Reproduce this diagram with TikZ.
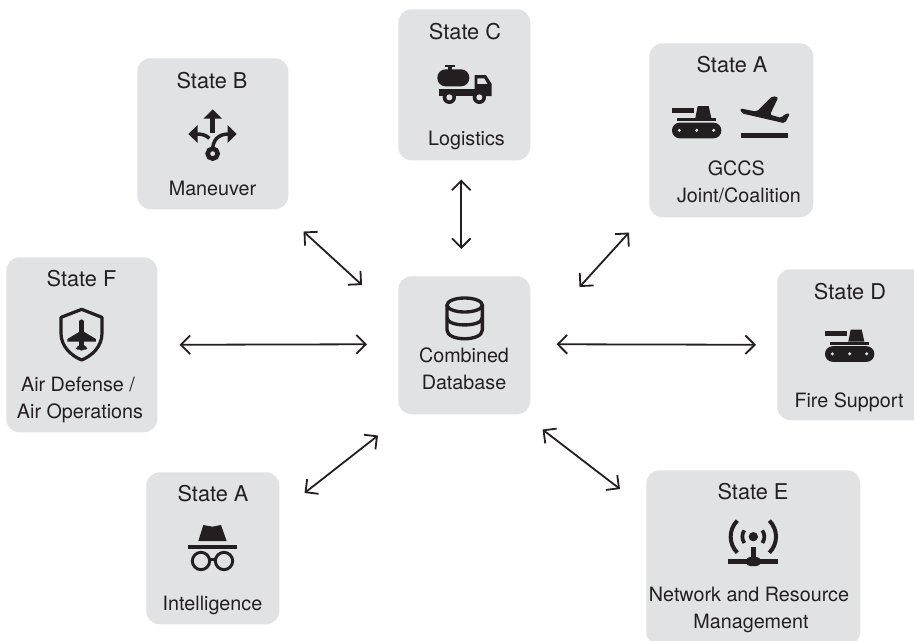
\documentclass[tikz,border=0pt]{standalone}
\usepackage{fontspec}
\setmainfont{TeX Gyre Heros}
\usetikzlibrary{arrows.meta,calc}
\definecolor{boxgray}{HTML}{E1E2E4}
\definecolor{ink}{HTML}{231F20}
\tikzset{
  x=0.75pt,y=-0.75pt,
  statebox/.style={fill=boxgray,rounded corners=10pt,inner sep=0pt,anchor=north west},
  statetitle/.style={font=\fontsize{16.3}{19}\selectfont,text=ink,anchor=base,inner sep=0pt},
  label/.style={font=\fontsize{14.8}{16.5}\selectfont,text=ink,anchor=base,inner sep=0pt,align=center},
  link/.style={ink,line width=1.35pt,{Straight Barb[length=7pt,width=14pt,line width=1.35pt]}-{Straight Barb[length=7pt,width=14pt,line width=1.35pt]}},
  iconline/.style={draw=ink,line width=2.2pt},
  tankicon/.pic={
    \begin{scope}[scale=1/3]
      \fill[ink] (0,5) rectangle (67,20);
      \fill[ink] (15,36) rectangle (133,45);
      \fill[ink] (77,0) -- (110,0) -- (118,36) -- (70,36) -- cycle;
      \fill[ink,rounded corners=5.8pt] (0,50) rectangle (148,97);
      \fill[boxgray] (22,73) circle (5) (74,73) circle (5) (125,73) circle (5);
    \end{scope}
  }
}
\begin{document}
\begin{tikzpicture}
\clip (0,0) rectangle (914,640);
\fill[white] (0,0) rectangle (914,640);

% boxes
\node[statebox,minimum width=113.25pt,minimum height=113.25pt] (nB) at (137,58) {};
\node[statebox,minimum width=99pt,minimum height=113.25pt] (nC) at (398,9) {};
\node[statebox,minimum width=123pt,minimum height=130.5pt] (nA) at (649,43) {};
\node[statebox,minimum width=113.25pt,minimum height=131.25pt] (nF) at (6,257) {};
\node[statebox,minimum width=99pt,minimum height=103.5pt] (db) at (398,276) {};
\node[statebox,minimum width=120pt,minimum height=113.25pt] (nD) at (777,269) {};
\node[statebox,minimum width=99.75pt,minimum height=114pt] (nG) at (146,472) {};
\node[statebox,minimum width=160.5pt,minimum height=131.25pt] (nE) at (646,470) {};

% texts
\node[statetitle] (tB) at (212,88) {State B};
\node[label] (lB) at (212.5,195) {Maneuver};
\node[statetitle] (tC) at (465,39) {State C};
\node[label] (lC) at (466.5,145) {Logistics};
\node[statetitle] (tA) at (732,72.5) {State A};
\node[label] (lA) at (739,202) {GCCS\kern4pt\\[3.5pt]Joint/Coalition};
\node[statetitle] (tF) at (81.5,286.5) {State F};
\node[label] (lF) at (80,418) {Air Defense /\kern3pt\\[3.5pt]Air Operations};
\node[statetitle] (tD) at (850,299) {State D};
\node[label] (lD) at (849,407) {Fire Support};
\node[statetitle] (tG) at (213,501.5) {State A};
\node[label] (lG) at (212.5,610) {Intelligence};
\node[statetitle] (tE) at (753,499) {State E};
\node[label] (lE) at (751,628) {Network and Resource\kern3pt\\[3.5pt]Management};
\node[label] (ldb) at (464,389) {Combined\\[3.5pt]Database};

% connectors
\draw[link] ($(nB.south east)+(15,22)$) -- ($(db.north west)+(-36,9)$);
\draw[link] ($(nC.south)+(-3,19)$) -- ($(db.north)+(-3,-27)$);
\draw[link] ($(nA.south west)+(-20,15)$) -- ($(db.north east)+(49,11)$);
\draw[link] ($(db.east)+(26,-1)$) -- ($(nD.west)+(-21,0)$);
\draw[link] ($(db.south east)+(12,15)$) -- ($(nE.north west)+(-26,19)$);
\draw[link] ($(nG.north east)+(25,21)$) -- ($(db.south west)+(-20,21)$);
\draw[link] ($(nF.east)+(22,0)$) -- ($(db.west)+(-31,-1)$);

% tanks
\pic at (672,106) {tankicon};
\pic at (825,329.5) {tankicon};

% plane and bar (State A)
\begin{scope}[shift={(735,90)},scale=1/3]
  \fill[ink] (18,129) rectangle (160,144);
  \fill[ink,rounded corners=1.5pt] (15,55) -- (65,65) -- (112,18) -- (130,22) -- (105,74) -- (140,84) -- (148,72) -- (165,70) -- (150,100) -- (20,70) -- cycle;
\end{scope}

% truck
\begin{scope}[shift={(400,10)},scale=1/3]
  \fill[ink,rounded corners=6.2pt] (112,178) rectangle (208,229);
  \fill[ink] (135,164) rectangle (165,171);
  \fill[ink] (145,168) rectangle (155,182);
  \fill[ink] (118,237) rectangle (225,258);
  \fill[ink,even odd rule] (224,195) -- (258,195) -- (275,222) -- (275,258) -- (224,258) -- cycle (232,205) -- (253,205) -- (263,222) -- (232,222) -- cycle;
  \fill[ink] (148,262) circle (20) (238,262) circle (20);
  \fill[boxgray] (148,262) circle (9) (238,262) circle (9);
\end{scope}

% maneuver
\begin{scope}[shift={(130,55)},scale=1/3]
  \fill[ink] (248,163) -- (276,191) -- (220,191) -- cycle;
  \fill[ink] (241,188) rectangle (255,235);
  \fill[ink] (175,237) -- (203,210) -- (203,264) -- cycle;
  \fill[ink] (320,237) -- (293,210) -- (293,264) -- cycle;
  \draw[iconline,line width=2.6pt] (200,237) .. controls (215,237) and (228,240) .. (238,250);
  \draw[iconline,line width=2.6pt] (296,237) .. controls (265,237) and (248,255) .. (248,285);
  \draw[draw=ink,line width=3.4pt] (248,296) circle (15);
\end{scope}

% shield
\begin{scope}[shift={(0,255)},scale=1/3]
  \draw[iconline,line join=round,line width=2.4pt] (245,163) -- (306,187) -- (306,235) .. controls (306,275) and (275,303) .. (245,315) .. controls (215,303) and (183,275) .. (183,235) -- (183,187) -- cycle;
  \draw[ink,line width=3.4pt,line cap=round] (245,200) -- (245,280);
  \fill[ink] (238,222) -- (288,252) -- (288,260) -- (202,260) -- (202,252) -- (252,222) -- cycle;
  \fill[ink,rounded corners=1pt] (245,265) -- (262,278) -- (262,284) -- (228,284) -- (228,278) -- cycle;
\end{scope}

% spy
\begin{scope}[shift={(140,470)},scale=1/3]
  \fill[ink] (175,213) -- (190,165) -- (217,170) -- (243,165) -- (260,213) -- cycle;
  \fill[ink] (143,226) rectangle (292,236);
  \draw[iconline] (183,273) circle (26) (252,273) circle (26);
  \draw[iconline] (207,268) -- (228,268);
\end{scope}

% antenna
\begin{scope}[shift={(640,465)},scale=1/3]
  \fill[ink] (340,215) circle (14);
  \fill[ink] (333,245) rectangle (347,290);
  \fill[ink] (265,282) rectangle (413,296);
  \fill[ink,rounded corners=3pt] (318,276) rectangle (362,303);
  \draw[iconline,line width=2.8pt] (340,215) ++(145:33) arc (145:215:33) ;
  \draw[iconline,line width=2.8pt] (340,215) ++(35:33) arc (35:-35:33) ;
  \draw[iconline,line width=3pt] (340,215) ++(135:68) arc (135:225:68) ;
  \draw[iconline,line width=3pt] (340,215) ++(45:68) arc (45:-45:68) ;
\end{scope}

% database
\begin{scope}[shift={(395,270)},scale=1/3]
  \draw[draw=ink,line width=2.5pt] (209,105) ellipse (53 and 21);
  \draw[draw=ink,line width=2.5pt] (156,105) -- (156,180) .. controls (156,215) and (262,215) .. (262,180) -- (262,105);
  \draw[draw=ink,line width=2.5pt] (156,143) .. controls (156,172) and (262,172) .. (262,143);
\end{scope}
\end{tikzpicture}
\end{document}
